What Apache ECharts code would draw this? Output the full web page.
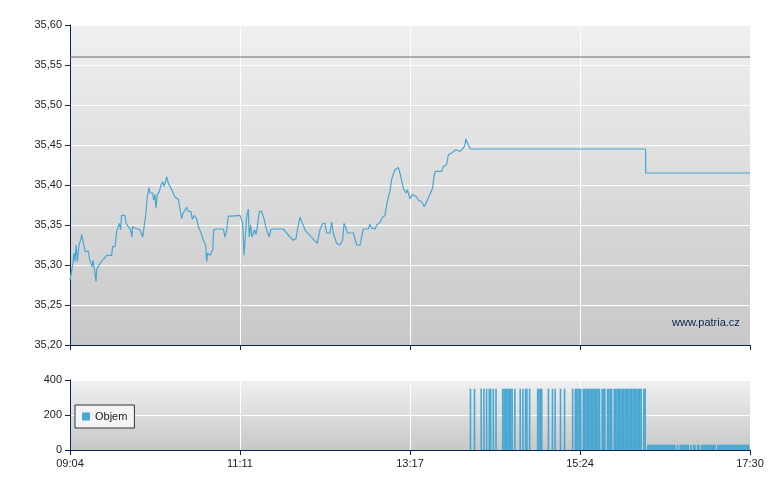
<!DOCTYPE html>
<html><head><meta charset="utf-8">
<script src="https://cdn.jsdelivr.net/npm/echarts@6/dist/echarts.min.js"></script>
<style>html,body{margin:0;padding:0;background:#fff}#c{width:780px;height:490px}</style>
</head><body><div id="c"></div>
<script>
// minutes since 09:04
const priceMinutes = [0,2,3,3.7,4.5,5.5,6.7,7.9,8.7,9.9,11.2,13.6,14.4,15.6,16.4,17.1,18.4,19.4,19.8,22.3,27.3,31,31.7,33.5,34.7,36.7,37.7,38.4,40.9,41.7,43.4,45.1,46.1,46.6,48.4,52.1,54.1,56.5,57.5,58.8,59.5,61.5,62.3,63.2,64,65,66.5,67.7,69,69.9,70.7,72,73.2,75.7,78.1,80.6,81.8,83.1,84.3,85.6,86.8,88,90,91,92.5,94.2,95.5,96.7,98,99.2,100.9,101.7,102.4,104.2,106.2,106.9,109.1,114.1,115.3,116.6,117.8,119,120.3,126.5,127.7,128.5,129.5,130.5,131.4,132.7,133.4,134.4,135.4,136.4,137.4,138.4,139.4,140.9,142.6,144.3,146.3,148.3,149.3,151.3,158.7,163.7,166.2,168.2,169.2,171.1,172.4,173.6,175.6,184,186,188,189.7,191,193.5,194.7,195.9,198.4,200.9,202.9,203.9,205.4,206.3,210.8,213.3,215.8,217,218.3,222,223.2,224.5,227,228.2,230.7,232.6,234.4,235.6,236.9,238.1,239.3,240.6,241.8,244.3,245.5,248,250,251,253,254.9,255.9,257.9,259.2,260.4,261.6,263.6,265.4,267.8,269.8,270.8,271.8,274,276.5,277.8,280.2,281.5,284,285.2,287.2,290.2,291.4,292.6,293.9,294.6,295.6,296.6,297.9,428.3,428.4,506];
const priceValues = [35.281,35.300,35.315,35.304,35.325,35.304,35.325,35.331,35.338,35.338,35.317,35.317,35.308,35.308,35.298,35.306,35.292,35.279,35.294,35.302,35.312,35.312,35.323,35.323,35.342,35.352,35.344,35.362,35.362,35.352,35.348,35.344,35.335,35.348,35.346,35.344,35.335,35.365,35.385,35.397,35.390,35.390,35.381,35.388,35.371,35.388,35.392,35.400,35.404,35.398,35.402,35.410,35.402,35.394,35.385,35.382,35.381,35.358,35.365,35.367,35.372,35.367,35.367,35.357,35.362,35.358,35.348,35.347,35.338,35.331,35.325,35.304,35.315,35.312,35.319,35.344,35.345,35.345,35.335,35.344,35.361,35.362,35.361,35.362,35.364,35.352,35.312,35.312,35.360,35.370,35.335,35.350,35.335,35.333,35.344,35.338,35.348,35.367,35.367,35.358,35.344,35.335,35.344,35.345,35.345,35.335,35.331,35.333,35.344,35.360,35.354,35.355,35.342,35.327,35.344,35.352,35.352,35.340,35.340,35.354,35.340,35.327,35.325,35.331,35.352,35.346,35.340,35.340,35.325,35.325,35.335,35.345,35.345,35.351,35.346,35.345,35.350,35.353,35.360,35.362,35.375,35.385,35.392,35.407,35.407,35.419,35.422,35.415,35.396,35.390,35.394,35.383,35.388,35.390,35.385,35.381,35.382,35.379,35.373,35.379,35.388,35.396,35.410,35.417,35.417,35.417,35.423,35.425,35.4375,35.440,35.4375,35.444,35.442,35.440,35.446,35.450,35.458,35.453,35.452,35.445,35.445,35.415,35.415];
const refPrice = 35.56;
const volHighMinutes = [298,301,306,308,310,312,313,315,317,322,323,324,325,326,327,328,329,331,335,337,339,340,342,348,349,350,351,356,359,361,365,368,374,376,377,378,379,380,382,383,384,385,386,387,388,389,390,391,392,393,394,396,397,398,400,401,402,403,405,406,407,408,409,410,411,412,413,414,415,416,417,418,419,420,421,422,423,424,425,427,428];
const volLowMinutes = [430,431,432,433,434,435,436,437,438,439,440,441,442,443,444,445,446,447,448,449,450,452,454,455,456,457,458,459,460,462,464,465,467,468,470,471,472,473,474,475,476,477,478,479,480,482,483,484,485,486,487,488,489,490,491,492,493,494,495,496,497,498,499,500,501,502,503,504,505];
const volHigh = 350, volLow = 30;
const priceTicks = [35.20,35.25,35.30,35.35,35.40,35.45,35.50,35.55,35.60];
const volTicks = [0,200,400];
const startMinute = 9*60+4, endOffset = 506;

const volData = volHighMinutes.map(m=>[m,volHigh]).concat(volLowMinutes.map(m=>[m,volLow]));
const priceData = priceMinutes.map((m,i)=>[m,priceValues[i]]);
const fmtTime = v => { const t = Math.round(startMinute+v); return String(Math.floor(t/60)).padStart(2,'0')+':'+String(t%60).padStart(2,'0'); };
const bg = new echarts.graphic.LinearGradient(0,0,0,1,[{offset:0,color:'#f0f0f0'},{offset:1,color:'#c8c8c8'}]);
const axisC = '#0a2550';
const font = {fontFamily:'Liberation Sans', fontSize:11, color:'#222'};
const chart = echarts.init(document.getElementById('c'));
chart.setOption({
  animation:false,
  grid:[{left:70,right:30,top:25,height:320,show:true,backgroundColor:bg,borderWidth:0},
        {left:70,right:30,top:380,height:70,show:true,backgroundColor:new echarts.graphic.LinearGradient(0,0,0,1,[{offset:0,color:'#f0f0f0'},{offset:1,color:'#c8c8c8'}]),borderWidth:0}],
  legend:{gridIndex:1,left:75,top:405,orient:'vertical',data:['Objem'],backgroundColor:'#f4f4f4',borderColor:'#333',borderWidth:1,borderRadius:0,padding:[6,7],itemWidth:8,itemHeight:8,textStyle:font,icon:'rect'},
  xAxis:[
    {type:'value',gridIndex:0,min:0,max:endOffset,interval:126.5,axisLine:{lineStyle:{color:axisC}},axisTick:{length:5,lineStyle:{color:axisC}},axisLabel:{show:false},splitLine:{lineStyle:{color:'#fff',width:1}}},
    {type:'value',gridIndex:1,min:0,max:endOffset,interval:126.5,axisLine:{lineStyle:{color:axisC}},axisTick:{length:5,lineStyle:{color:axisC}},axisLabel:Object.assign({formatter:fmtTime,margin:8},font),splitLine:{lineStyle:{color:'#fff',width:1}}}
  ],
  yAxis:[
    {type:'value',gridIndex:0,min:priceTicks[0],max:priceTicks[priceTicks.length-1],interval:0.05,axisLine:{show:true,lineStyle:{color:axisC}},axisTick:{show:true,length:5,lineStyle:{color:axisC}},axisLabel:Object.assign({formatter:v=>v.toFixed(2).replace('.',','),margin:8},font),splitLine:{lineStyle:{color:'#fff',width:1}}},
    {type:'value',gridIndex:1,min:volTicks[0],max:volTicks[volTicks.length-1],interval:200,axisLine:{show:true,lineStyle:{color:axisC}},axisTick:{show:true,length:5,lineStyle:{color:axisC}},axisLabel:Object.assign({margin:8},font),splitLine:{lineStyle:{color:'#fff',width:1}}}
  ],
  graphic:[{type:'text',left:672,top:317,style:{text:'www.patria.cz',fontFamily:'Liberation Sans',fontSize:11,fill:'#0a2550'}}],
  series:[
    {name:'ref',type:'line',xAxisIndex:0,yAxisIndex:0,data:[[0,refPrice],[endOffset,refPrice]],symbol:'none',lineStyle:{color:'#666',width:1},silent:true},
    {name:'Cena',type:'line',xAxisIndex:0,yAxisIndex:0,data:priceData,symbol:'none',lineStyle:{color:'#48a6d2',width:1.2}},
    {name:'Objem',type:'bar',xAxisIndex:1,yAxisIndex:1,data:volData,barWidth:1.6,itemStyle:{color:'#47a7d1'},large:false}
  ]
});
</script></body></html>
